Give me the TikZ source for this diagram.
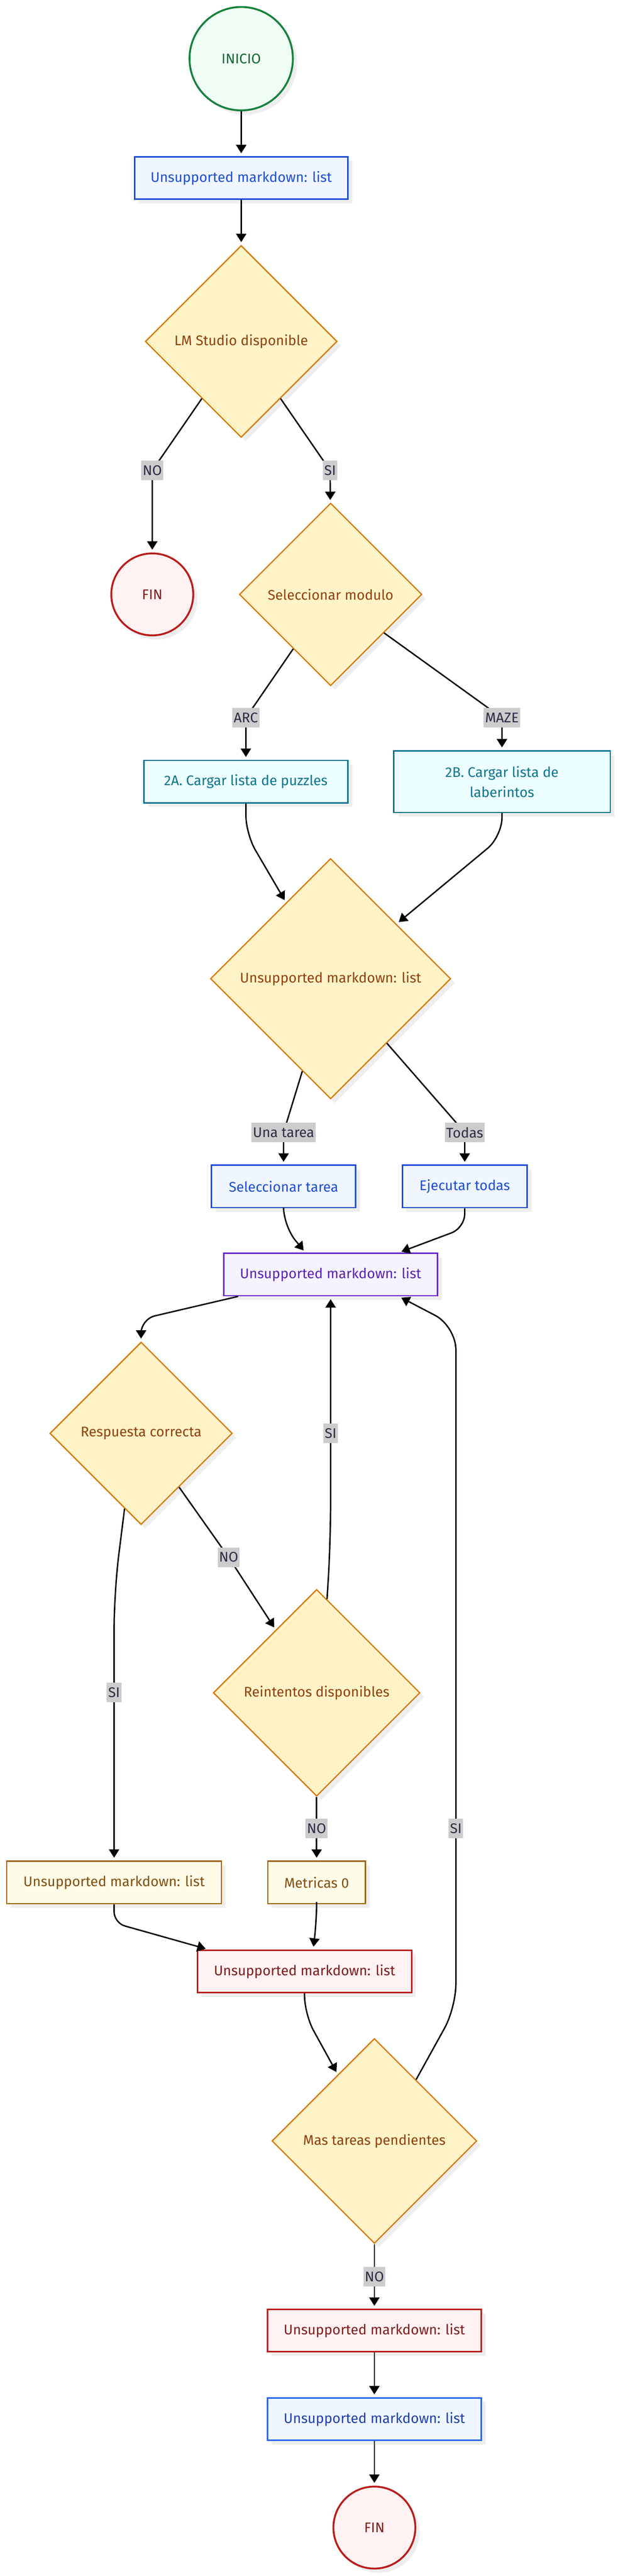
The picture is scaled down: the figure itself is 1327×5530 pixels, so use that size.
\documentclass[tikz,border=0pt]{standalone}
\usepackage{fontspec}
\setmainfont{Fira Sans}
\usetikzlibrary{shapes.geometric,arrows.meta,calc,shadows}
\definecolor{grnB}{HTML}{15803D}\definecolor{grnF}{HTML}{F0FDF4}\definecolor{grnT}{HTML}{166534}
\definecolor{bluB}{HTML}{1D4ED8}\definecolor{bluF}{HTML}{EFF6FF}\definecolor{bluT}{HTML}{1D4ED8}
\definecolor{bluBB}{HTML}{2563EB}\definecolor{bluTT}{HTML}{1E40AF}
\definecolor{orgB}{HTML}{D97706}\definecolor{orgF}{HTML}{FEF3C7}\definecolor{orgT}{HTML}{92400E}
\definecolor{tealB}{HTML}{0E7490}\definecolor{tealF}{HTML}{ECFEFF}\definecolor{tealT}{HTML}{0E7490}
\definecolor{purB}{HTML}{6D28D9}\definecolor{purF}{HTML}{F5F3FF}\definecolor{purT}{HTML}{5B21B6}
\definecolor{yelB}{HTML}{A16207}\definecolor{yelF}{HTML}{FEFCE8}\definecolor{yelT}{HTML}{854D0E}
\definecolor{redB}{HTML}{B91C1C}\definecolor{redF}{HTML}{FEF2F2}\definecolor{redT}{HTML}{7F1D1D}
\definecolor{lblF}{HTML}{CCCCCC}\definecolor{lblT}{HTML}{2E2C45}
\definecolor{shd}{HTML}{EEEEEE}
\newcommand\fsz{\fontsize{15}{21.5}\selectfont}
\tikzset{
  base/.style={line width=1.5pt, font=\fsz, inner sep=0pt, align=center,
    general shadow={fill=shd, shadow xshift=4.5pt, shadow yshift=-4.5pt}},
  boxn/.style={base, rectangle, minimum height=45.5pt},
  dia/.style={base, diamond, aspect=1, line width=1.3pt, draw=orgB, fill=orgF, text=orgT},
  circ/.style={base, circle, line width=2pt},
  bluebox/.style={boxn, draw=bluB, fill=bluF, text=bluT},
  tealbox/.style={boxn, draw=tealB, fill=tealF, text=tealT},
  purbox/.style={boxn, draw=purB, fill=purF, text=purT},
  yelbox/.style={boxn, draw=yelB, fill=yelF, text=yelT},
  redbox/.style={boxn, draw=redB, fill=redF, text=redT},
  lbl/.style={fill=lblF, text=lblT, font=\fsz, inner xsep=1.5pt, inner ysep=0pt, minimum height=21pt},
  arr/.style={draw=black, line width=1.5pt, -{Triangle[length=9pt,width=11pt]}, shorten >=3pt, rounded corners=6pt},
}
\begin{document}
\begin{tikzpicture}[x=0.5pt,y=-0.5pt]
\fill[white] (0,0) rectangle (1327,5530);
\useasboundingbox (0,0) rectangle (1327,5530);
% nodes
\node[circ, draw=grnB, fill=grnF, text=grnT, minimum size=111pt] (ini) at (518,126) {INICIO};
\node[bluebox, minimum width=229pt] (b1) at (518,382) {Unsupported markdown: list};
\node[dia, minimum width=206pt, minimum height=206pt] (d1) at (518,733) {LM Studio disponible};
\node[circ, draw=redB, fill=redF, text=redT, minimum size=88pt] (fin1) at (327,1276) {FIN};
\node[dia, minimum width=196pt, minimum height=196pt] (d2) at (710,1276) {Seleccionar modulo};
\node[tealbox, minimum width=219pt] (a2) at (528,1678) {2A. Cargar lista de puzzles};
\node[tealbox, minimum width=232.5pt, minimum height=66pt] (b2) at (1078,1678) {2B. Cargar lista de\\laberintos};
\node[dia, minimum width=258pt, minimum height=258pt] (d3) at (710,2101) {Unsupported markdown: list};
\node[bluebox, minimum width=155pt] (st) at (609,2547) {Seleccionar tarea};
\node[bluebox, minimum width=134pt] (et) at (998,2547) {Ejecutar todas};
\node[purbox, minimum width=229.5pt] (pb) at (710,2736) {Unsupported markdown: list};
\node[dia, minimum width=196pt, minimum height=196pt] (d4) at (303,3077) {Respuesta correcta};
\node[dia, minimum width=222pt, minimum height=222pt] (d5) at (680,3634) {Reintentos disponibles};
\node[yelbox, minimum width=230.5pt] (yl) at (245,4041) {Unsupported markdown: list};
\node[yelbox, minimum width=105pt] (mt) at (680,4041) {Metricas 0};
\node[redbox, minimum width=230pt] (rb) at (654,4232) {Unsupported markdown: list};
\node[dia, minimum width=220pt, minimum height=220pt] (d6) at (804,4596) {Mas tareas pendientes};
\node[redbox, minimum width=229.5pt] (rb2) at (804,5003) {Unsupported markdown: list};
\node[bluebox, draw=bluBB, text=bluTT, minimum width=229.5pt] (bb2) at (804,5193) {Unsupported markdown: list};
\node[circ, draw=redB, fill=redF, text=redT, minimum size=88pt] (fin2) at (804,5426) {FIN};
% label positions
\coordinate (cNO1) at (327,1010);
\coordinate (cSI1) at (709,1010);
\coordinate (cARC) at (528,1541);
\coordinate (cMAZE) at (1078,1541);
\coordinate (cUna) at (609,2431);
\coordinate (cTodas) at (998,2431);
\coordinate (cSI2) at (710,3077);
\coordinate (cNO2) at (491,3343);
\coordinate (cSI3) at (245,3633);
\coordinate (cNO3) at (680,3925);
\coordinate (cSI4) at (979,3925);
\coordinate (cNO4) at (804,4887);
% connectors
\draw[arr] (ini) -- (b1);
\draw[arr] (b1) -- (d1);
\draw[arr] (d1) -- (cNO1) -- (fin1);
\draw[arr] (d1) -- (cSI1) -- (d2);
\draw[arr] (d2) -- (cARC) -- (a2);
\draw[arr] (d2) -- (cMAZE) -- (b2);
\draw[arr, rounded corners=20pt] (a2.south) -- ++(0,65) -- (d3);
\draw[arr, rounded corners=20pt] (b2.south) -- ++(0,50) -- (d3);
\draw[arr] (d3) -- (cUna) -- (st);
\draw[arr] (d3) -- (cTodas) -- (et);
\draw[arr, rounded corners=20pt] (st.south) -- ++(0,38) -- ($(pb.north west)!0.383!(pb.north east)$);
\draw[arr, rounded corners=15pt] (et.south) -- ++(0,42) -- ($(pb.north west)!0.817!(pb.north east)$);
\draw[arr, rounded corners=15pt] ($(pb.south west)!0.07!(pb.south east)$) -- ($(d4.north)+(0,-48)$) -- (d4.north);
\draw[arr, rounded corners=40pt] ($(d5.north)!0.1!(d5.east)$) -- ($(pb.south)+(0,525)$) -- (pb.south);
\draw[arr] (d4) -- (cNO2) -- (d5);
\draw[arr, rounded corners=40pt] ($(d4.south)!0.18!(d4.west)$) -- ($(yl.north)+(0,-576)$) -- (yl.north);
\draw[arr] (d5) -- (cNO3) -- (mt);
\draw[arr, rounded corners=25pt] ($(d6.north)!0.405!(d6.east)$) -- ($(cSI4)+(0,385)$) -- ($(cSI4)+(0,-1078)$) -- ($(pb.south west)!0.817!(pb.south east)$);
\draw[arr, rounded corners=12pt] (yl.south) -- ++(0,40) -- ($(rb.north west)!0.054!(rb.north east)$);
\draw[arr, rounded corners=20pt] (mt.south) -- ++(0,35) -- ($(rb.north west)!0.54!(rb.north east)$);
\draw[arr, rounded corners=20pt] (rb.south) -- ++(0,45) -- (d6);
\draw[arr] (d6) -- (cNO4) -- (rb2);
\draw[arr] (rb2) -- (bb2);
\draw[arr] (bb2) -- (fin2);
% labels
\node[lbl] (lNO1) at (cNO1) {NO};
\node[lbl] (lSI1) at (cSI1) {SI};
\node[lbl] (lARC) at (cARC) {ARC};
\node[lbl] (lMAZE) at (cMAZE) {MAZE};
\node[lbl] (lUna) at (cUna) {Una tarea};
\node[lbl] (lTodas) at (cTodas) {Todas};
\node[lbl] (lSI2) at (cSI2) {SI};
\node[lbl] (lNO2) at (cNO2) {NO};
\node[lbl] (lSI3) at (cSI3) {SI};
\node[lbl] (lNO3) at (cNO3) {NO};
\node[lbl] (lSI4) at (cSI4) {SI};
\node[lbl] (lNO4) at (cNO4) {NO};
\end{tikzpicture}
\end{document}
